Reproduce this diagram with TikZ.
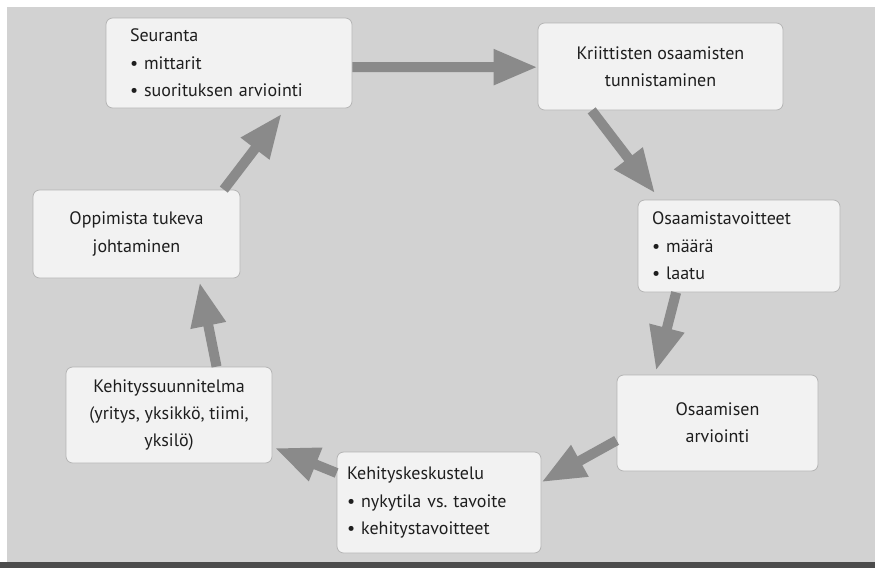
\documentclass[tikz,border=0pt]{standalone}
\usepackage{fontspec}
\setmainfont{PT Sans}
\usetikzlibrary{arrows.meta,calc}
\definecolor{bgcol}{HTML}{D2D2D2}
\definecolor{boxcol}{HTML}{F2F2F2}
\definecolor{bordercol}{HTML}{B4B4B4}
\definecolor{arrowcol}{HTML}{8A8A8A}
\definecolor{txtcol}{HTML}{1E1E1E}
\tikzset{
  box/.style={draw=bordercol, fill=boxcol, line width=0.6pt, rounded corners=5pt,
    inner sep=0pt, text=txtcol, font=\fontsize{13.5}{20.5}\selectfont},
  flow/.style={draw=arrowcol, line width=7.5pt,
    -{Triangle[length=33pt,width=25pt]}, fill=arrowcol}
}
\begin{document}
\begin{tikzpicture}[x=0.75pt,y=-0.75pt]
\useasboundingbox (0,0) rectangle (875,568);
\fill[white] (0,0) rectangle (875,568);
\fill[bgcol] (7,7) rectangle (875,562);
\fill[black!70] (0,562) rectangle (875,568);

\node[box, minimum width=184.5pt, minimum height=67.5pt, text width=148.5pt, align=left] (n1) at (229,63)
  {Seuranta\\• mittarit\\• suorituksen arviointi};
\node[box, minimum width=183.75pt, minimum height=65.25pt, align=center] (n2) at (660.5,66.5)
  {Kriittisten osaamisten\\tunnistaminen};
\node[box, minimum width=151.5pt, minimum height=69pt, text width=130.5pt, align=left] (n3) at (739,246)
  {Osaamistavoitteet\\• määrä\\• laatu};
\node[box, minimum width=150.75pt, minimum height=72pt, align=center] (n4) at (717.5,423)
  {Osaamisen\\arviointi};
\node[box, minimum width=153pt, minimum height=75.75pt, text width=138pt, align=left] (n5) at (439,502.5)
  {Kehityskeskustelu\\• nykytila vs.\ tavoite\\• kehitystavoitteet};
\node[box, minimum width=154.5pt, minimum height=72pt, align=center] (n6) at (169,415)
  {Kehityssuunnitelma\\(yritys, yksikkö, tiimi,\\yksilö)};
\node[box, minimum width=155.25pt, minimum height=66pt, align=center] (n7) at (136.5,234)
  {Oppimista tukeva\\johtaminen};

\draw[flow] ([yshift=-3pt]n1.east) -- ([yshift=-0.5pt]n2.west);
\draw[flow, shorten >=6pt] ($(n2.south west)!0.22!(n2.south east)$) -- ($(n3.north west)!0.11!(n3.north east)$);
\draw[flow, shorten >=3pt] ($(n3.south west)!0.19!(n3.south east)$) -- ($(n4.north west)!0.19!(n4.north east)$);
\draw[flow] ($(n4.north west)!0.68!(n4.south west)$) -- ($(n5.north east)!0.3!(n5.south east)$);
\draw[flow, shorten >=2pt] ($(n5.north west)!0.21!(n5.south west)$) -- ($(n6.north east)!0.83!(n6.south east)$);
\draw[flow, shorten >=3pt] ($(n6.north west)!0.73!(n6.north east)$) -- ($(n7.south west)!0.8!(n7.south east)$);
\draw[flow, shorten >=5pt] ($(n7.north west)!0.92!(n7.north east)$) -- ($(n1.south west)!0.73!(n1.south east)$);
\end{tikzpicture}
\end{document}
